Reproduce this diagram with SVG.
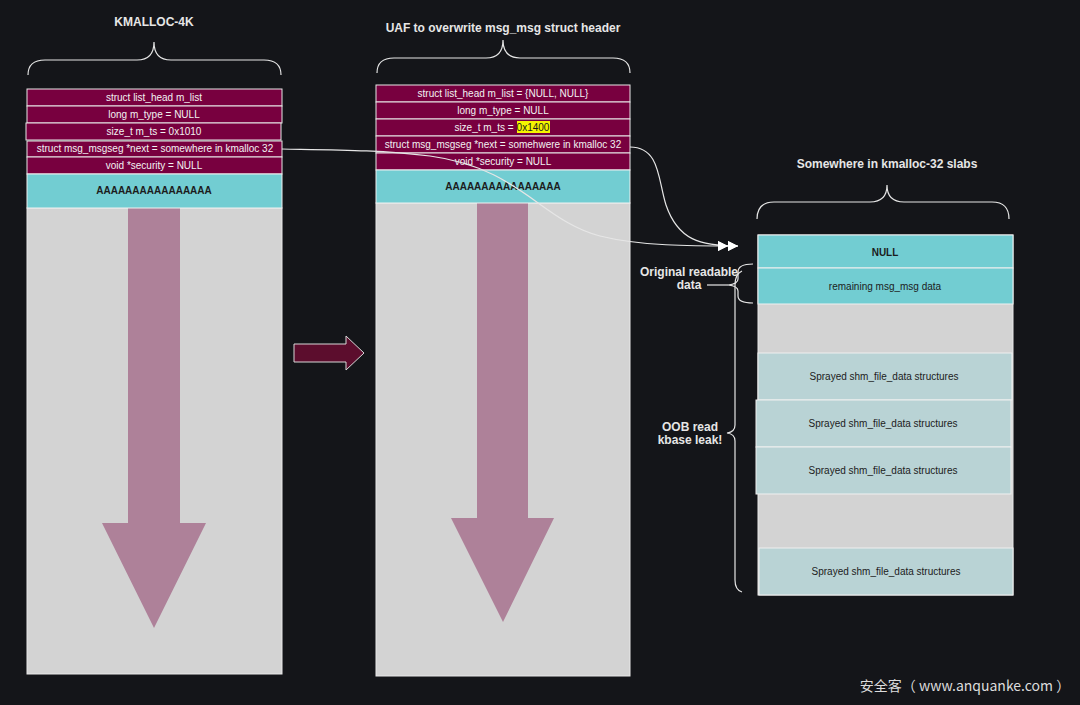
<svg xmlns="http://www.w3.org/2000/svg" width="1080" height="705" viewBox="0 0 1080 705">
<defs>
<style>
.bg{fill:#141519}
.hdr{fill:#78003f;stroke:#e8e8e8;stroke-width:1}
.cy{fill:#72cdd2;stroke:#f0f0f0;stroke-width:1}
.gr{fill:#d3d3d3;stroke:#e8e8e8;stroke-width:1}
.sp{fill:#b9d3d5;stroke:#f0f0f0;stroke-width:1}
.big{fill:#ae8199}
.t{font-family:"Liberation Sans",Arial,sans-serif;font-size:10px;text-anchor:middle}
.w{fill:#f2f2f2}
.d{fill:#1c1c1c}
.b{font-weight:bold}
.title{font-family:"Liberation Sans",Arial,sans-serif;font-size:12px;font-weight:bold;fill:#e6e6e6;text-anchor:middle}
.lbl{font-family:"Liberation Sans",Arial,sans-serif;font-size:12px;font-weight:bold;fill:#e6e6e6;text-anchor:middle}
.brace{fill:none;stroke:#e6e6e6;stroke-width:1.2}
.conn{fill:none;stroke:#e6e6e6;stroke-width:1.2}
</style>
<marker id="dbl" viewBox="0 0 20 10" refX="20" refY="5" markerWidth="20" markerHeight="10" markerUnits="userSpaceOnUse" orient="auto">
<path d="M0,0 L10,5 L0,10 Z M10,0 L20,5 L10,10 Z" fill="#ffffff"/>
</marker>
</defs>
<rect class="bg" x="0" y="0" width="1080" height="705"/>

<g id="col-left">
<text class="title" x="154" y="26">KMALLOC-4K</text>
<path class="brace" d="M28,75 Q28,60 45,60 L137,60 Q154,60 154,42 Q154,60 171,60 L264,60 Q281,60 281,75"/>
<rect class="gr" x="27" y="208" width="255" height="466"/>
<path class="big" d="M128,208 L180,208 L180,523 L206,523 L154,628 L102,523 L128,523 Z"/>
<rect class="hdr" x="27" y="89" width="255" height="17"/>
<text class="t w" x="154" y="101">struct list_head m_list</text>
<rect class="hdr" x="27" y="106" width="255" height="17"/>
<text class="t w" x="154" y="118">long m_type = NULL</text>
<rect class="hdr" x="26" y="123" width="255" height="17"/>
<text class="t w" x="154" y="135">size_t m_ts = 0x1010</text>
<rect class="hdr" x="27" y="141" width="255" height="16"/>
<text class="t w" x="155" y="152">struct msg_msgseg *next = somewhere in kmalloc 32</text>
<rect class="hdr" x="27" y="157" width="255" height="17"/>
<text class="t w" x="154" y="169">void *security = NULL</text>
<rect class="cy" x="27" y="174" width="255" height="34"/>
<text class="t d b" x="154" y="194">AAAAAAAAAAAAAAAA</text>
</g>

<g id="col-mid">
<text class="title" x="503" y="32">UAF to overwrite msg_msg struct header</text>
<path class="brace" d="M377,73 Q377,58 394,58 L486,58 Q503,58 503,40 Q503,58 520,58 L613,58 Q630,58 630,73"/>
<rect class="gr" x="376" y="203" width="254" height="473"/>
<path class="big" d="M477,203 L528,203 L528,518 L554,518 L503,622 L451,518 L477,518 Z"/>
<rect class="hdr" x="376" y="85" width="254" height="17"/>
<text class="t w" x="503" y="97">struct list_head m_list = {NULL, NULL}</text>
<rect class="hdr" x="376" y="102" width="254" height="17"/>
<text class="t w" x="503" y="114">long m_type = NULL</text>
<rect class="hdr" x="376" y="119" width="254" height="17"/>
<rect x="517" y="121" width="33" height="12" fill="#f5f500"/>
<text class="t w" x="484" y="131">size_t m_ts = </text>
<text class="t" x="533" y="131" fill="#1c1c1c">0x1400</text>
<rect class="hdr" x="376" y="136" width="254" height="17"/>
<text class="t w" x="503" y="148">struct msg_msgseg *next = somehwere in kmalloc 32</text>
<rect class="hdr" x="376" y="153" width="254" height="17"/>
<text class="t w" x="503" y="165">void *security = NULL</text>
<rect class="cy" x="376" y="170" width="254" height="33"/>
<text class="t d b" x="503" y="190">AAAAAAAAAAAAAAAA</text>
</g>

<g id="step-arrow">
<path d="M294,344 L346,344 L346,336 L364,353 L346,370 L346,362 L294,362 Z" fill="#5c0d2d" stroke="#d8d8d8" stroke-width="1"/>
</g>

<g id="col-right">
<text class="title" x="887" y="168">Somewhere in kmalloc-32 slabs</text>
<path class="brace" d="M757,219 Q757,202 774,202 L870,202 Q887,202 887,185 Q887,202 904,202 L992,202 Q1009,202 1009,219"/>
<rect class="gr" x="758" y="235" width="255" height="360"/>
<rect class="cy" x="758" y="235" width="255" height="33"/>
<text class="t d b" x="885" y="256">NULL</text>
<rect class="cy" x="758" y="268" width="255" height="36"/>
<text class="t d" x="885" y="290">remaining msg_msg data</text>
<rect class="sp" x="758" y="353" width="254" height="47"/>
<text class="t d" x="884" y="380">Sprayed shm_file_data structures</text>
<rect class="sp" x="756" y="400" width="255" height="47"/>
<text class="t d" x="883" y="427">Sprayed shm_file_data structures</text>
<rect class="sp" x="756" y="447" width="255" height="47"/>
<text class="t d" x="883" y="474">Sprayed shm_file_data structures</text>
<rect class="sp" x="759" y="548" width="254" height="47"/>
<text class="t d" x="886" y="575">Sprayed shm_file_data structures</text>
</g>

<g id="annot-readable">
<text class="lbl" x="689" y="276">Original readable</text>
<text class="lbl" x="689" y="289">data</text>
<path class="brace" d="M753,264 Q738,264 738,272 L738,279 Q738,284 728,285 Q738,286 738,291 L738,296 Q738,303 753,303"/>
<path class="brace" d="M707,285 L728,285"/>
</g>

<g id="annot-oob">
<text class="lbl" x="690" y="431">OOB read</text>
<text class="lbl" x="690" y="444">kbase leak!</text>
<path class="brace" d="M742,271 Q735,274 735,285 L735,425 Q735,432 727,433 Q735,434 735,441 L735,580 Q735,590 742,592"/>
</g>

<g id="connectors">
<path class="conn" marker-end="url(#dbl)" d="M282,149 C340,150 380,150 430,156 C520,168 540,220 600,236 C640,246 690,246 738,246"/>
<path class="conn" marker-end="url(#dbl)" d="M630,147 C660,147 658,180 666,205 C678,240 700,246 738,246"/>
</g>

<text x="965" y="691" font-family="'Noto Sans CJK SC','Noto Sans',sans-serif" font-size="14" fill="#dcdcdc" text-anchor="middle">安全客（ www.anquanke.com ）</text>
</svg>
